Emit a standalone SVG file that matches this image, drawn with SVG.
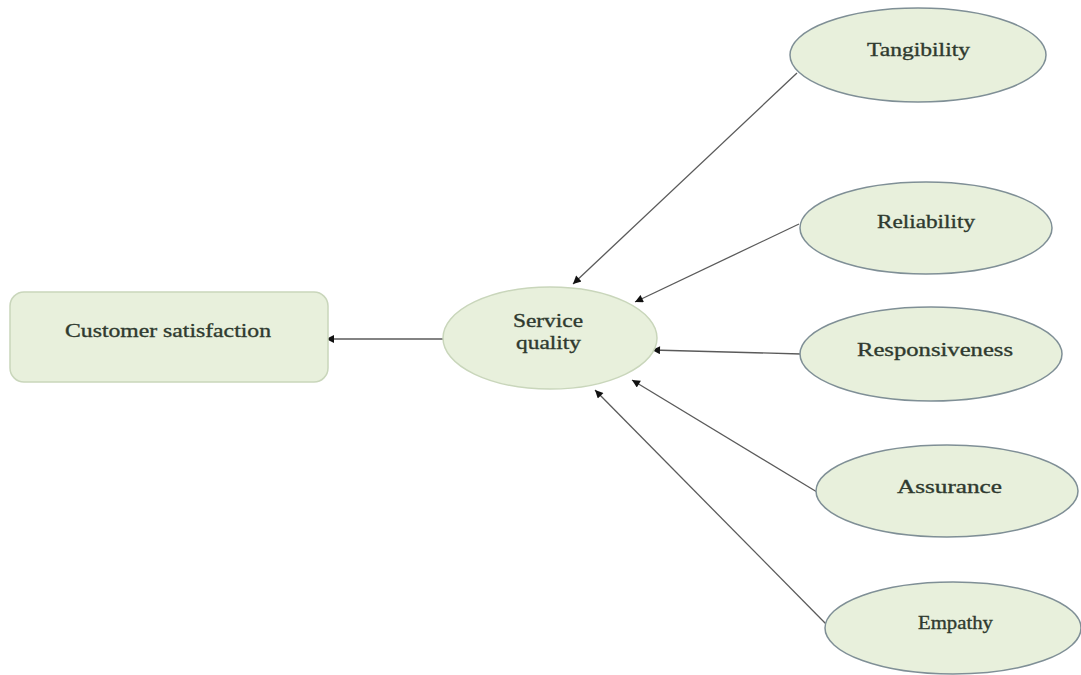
<svg xmlns="http://www.w3.org/2000/svg" width="1081" height="675" viewBox="0 0 1081 675">
<defs>
<style>
.node{fill:#e8f0dc;stroke:#7f8f96;stroke-width:1.5}
.box{fill:#e8f0dc;stroke:#c9d6bb;stroke-width:1.5}
.lbl{font-family:"Liberation Serif","Times New Roman",serif;font-size:19px;fill:#2f3a2f;stroke:#2f3a2f;stroke-width:0.35}
.edge{stroke:#5a5a5a;stroke-width:1.3;fill:none;marker-end:url(#arr)}
</style>
<marker id="arr" viewBox="0 0 10 10" refX="10" refY="5" markerWidth="10" markerHeight="8" markerUnits="userSpaceOnUse" orient="auto">
<path d="M0,0 L10,5 L0,10 z" fill="#111"/>
</marker>
</defs>
<rect width="1081" height="675" fill="#ffffff"/>
<g id="connectors">
<line class="edge" x1="443" y1="339" x2="326" y2="339"/>
<line class="edge" x1="797" y1="73" x2="573" y2="284"/>
<line class="edge" x1="799" y1="224" x2="635" y2="302"/>
<line class="edge" x1="801" y1="354" x2="652" y2="350"/>
<line class="edge" x1="817" y1="492" x2="632" y2="380"/>
<line class="edge" x1="827" y1="625" x2="595" y2="390"/>
</g>
<g id="customer-satisfaction">
<rect class="box" x="10" y="292" width="318" height="90" rx="14"/>
<text class="lbl" x="65" y="337" textLength="206" lengthAdjust="spacingAndGlyphs">Customer satisfaction</text>
</g>
<g id="service-quality">
<ellipse class="node" cx="550" cy="338" rx="107" ry="51" style="stroke:#c9d6bb"/>
<text class="lbl" x="513" y="327" textLength="70" lengthAdjust="spacingAndGlyphs">Service</text>
<text class="lbl" x="516" y="349" textLength="65" lengthAdjust="spacingAndGlyphs">quality</text>
</g>
<g id="tangibility">
<ellipse class="node" cx="918" cy="55" rx="128" ry="47"/>
<text class="lbl" x="867" y="56" textLength="103" lengthAdjust="spacingAndGlyphs">Tangibility</text>
</g>
<g id="reliability">
<ellipse class="node" cx="926" cy="228" rx="126" ry="46"/>
<text class="lbl" x="877" y="228" textLength="98" lengthAdjust="spacingAndGlyphs">Reliability</text>
</g>
<g id="responsiveness">
<ellipse class="node" cx="931" cy="354" rx="131" ry="47"/>
<text class="lbl" x="857" y="356" textLength="156" lengthAdjust="spacingAndGlyphs">Responsiveness</text>
</g>
<g id="assurance">
<ellipse class="node" cx="947" cy="491" rx="131" ry="46"/>
<text class="lbl" x="897" y="493" textLength="105" lengthAdjust="spacingAndGlyphs">Assurance</text>
</g>
<g id="empathy">
<ellipse class="node" cx="953" cy="628" rx="128" ry="46"/>
<text class="lbl" x="918" y="629" textLength="75" lengthAdjust="spacingAndGlyphs">Empathy</text>
</g>
</svg>
